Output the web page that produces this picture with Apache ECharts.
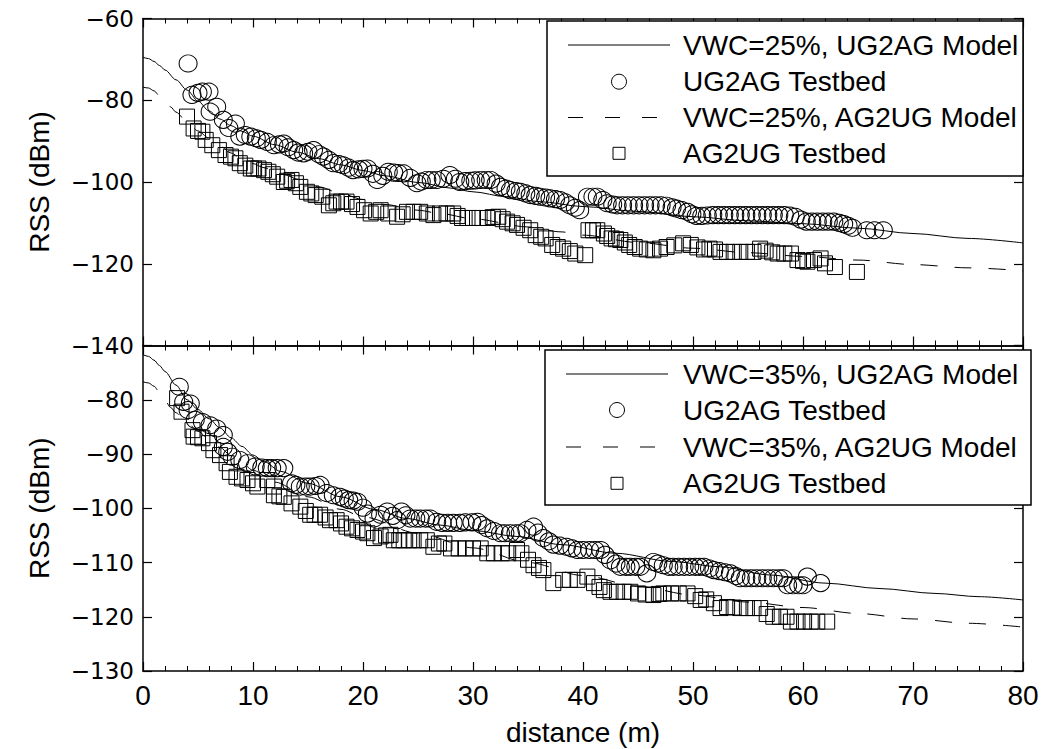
<!DOCTYPE html>
<html>
<head>
<meta charset="utf-8">
<script src="https://cdn.jsdelivr.net/npm/echarts@6/dist/echarts.min.js"></script>
<style>
html,body{margin:0;padding:0;background:#fff;}
#chart{width:1062px;height:749px;}
</style>
</head>
<body>
<div id="chart"></div>
<script>
// ---------- axis ranges / ticks ----------
const xRange = [0, 80];
const xInterval = 10;
const topYRange = [-140, -60];
const topYInterval = 20;
const bottomYRange = [-130, -70];
const bottomYInterval = 10;
const xAxisTitle = 'distance (m)';
const yAxisTitle = 'RSS (dBm)';

// ---------- legend labels ----------
const topLegendLabels = ['VWC=25%, UG2AG Model', 'UG2AG Testbed', 'VWC=25%, AG2UG Model', 'AG2UG Testbed'];
const bottomLegendLabels = ['VWC=35%, UG2AG Model', 'UG2AG Testbed', 'VWC=35%, AG2UG Model', 'AG2UG Testbed'];

// ---------- top panel (VWC = 25%) ----------
const top_ug2agModel = [[0,-69.5],[0.5,-69.8],[1,-70.5],[1.5,-71.5],[2,-72.6],[3,-75],[4,-77.5],[5,-80.2],[6,-82.6],[7,-84.6],[8,-86.2],[9,-87.6],[10,-88.8],[12,-90.9],[14,-92.7],[16,-94.3],[18,-95.8],[20,-97.2],[22,-98.5],[25,-100.1],[28,-101.5],[30,-102.4],[33,-103.6],[36,-104.8],[40,-106],[45,-107.2],[50,-108.5],[55,-109.5],[60,-110.2],[65,-111.3],[70,-112.6],[75,-113.8],[80,-114.9]];
const top_ug2agTest = [[4.1,-71],[4.45,-78.7],[5.0,-78.2],[5.4,-77.9],[6.0,-77.9],[6.1,-82.8],[6.7,-81.6],[7.3,-84.8],[7.8,-86.8],[8.4,-85.7],[8.8,-88.9],[9.3,-88.5],[9.8,-88.9],[10.3,-89.3],[10.7,-89.7],[11.3,-90.2],[11.9,-91],[12.4,-90.8],[12.8,-90.6],[13.2,-91.5],[13.7,-92.2],[14.1,-92.8],[14.6,-93],[15.0,-92.6],[15.5,-92.2],[16.0,-93.2],[16.4,-93.8],[16.9,-94.6],[17.3,-95.4],[17.8,-95.6],[18.2,-95.9],[18.7,-96.5],[19.1,-97.1],[19.6,-96.9],[20.0,-96.8],[20.4,-96.7],[20.9,-98],[21.3,-99.5],[21.8,-98.5],[22.3,-97.5],[22.8,-97.7],[23.2,-97.8],[23.7,-97.9],[24.3,-99],[24.9,-100.3],[25.3,-99.9],[25.8,-99.5],[26.2,-99.5],[26.7,-99.5],[27.3,-99.2],[27.9,-98.3],[28.4,-99.2],[28.8,-100],[29.3,-99.8],[29.8,-99.7],[30.2,-99.6],[30.7,-99.5],[31.2,-99.5],[31.6,-99.5],[32.1,-100.4],[32.5,-101.2],[33.0,-101.6],[33.4,-102],[33.9,-102.2],[34.3,-102.4],[34.8,-102.8],[35.2,-103.2],[35.7,-103.4],[36.1,-103.6],[36.6,-103.8],[37.0,-104],[37.5,-104.2],[37.9,-104.4],[38.4,-105],[38.8,-105.7],[39.3,-106.3],[39.7,-106.9],[40.4,-103.6],[40.9,-103.6],[41.3,-103.6],[41.8,-104.4],[42.2,-105.2],[42.7,-105.5],[43.1,-105.7],[43.6,-105.7],[44.1,-105.7],[44.6,-105.7],[45.1,-105.7],[45.6,-105.7],[46.1,-105.7],[46.6,-105.7],[47.1,-105.7],[47.6,-105.8],[48.1,-106.2],[48.5,-106.5],[49.0,-106.9],[49.5,-107.3],[49.9,-107.9],[50.3,-108.3],[50.8,-108.3],[51.3,-108.2],[51.8,-108.1],[52.3,-108.1],[52.8,-108.1],[53.3,-108.1],[53.8,-108.1],[54.3,-108.1],[54.8,-108.1],[55.3,-108.1],[55.8,-108.1],[56.3,-108.1],[56.8,-108.1],[57.3,-108.1],[57.8,-108.1],[58.3,-108.1],[58.8,-108.2],[59.3,-108.5],[59.8,-109.2],[60.3,-109.7],[60.8,-109.7],[61.3,-109.7],[61.8,-109.7],[62.3,-109.7],[62.8,-109.7],[63.3,-110],[63.7,-110.3],[64.1,-110.7],[64.5,-111.2],[65.8,-111.8],[66.5,-111.8],[67.3,-111.8]];
const top_ag2ugModel = [[0,-76.8],[0.5,-77.0],[1,-77.7],[1.5,-78.9],[2,-80.2],[2.5,-81.6],[3,-82.9],[4,-85.3],[5,-87.5],[6,-89.3],[7,-91.2],[8,-92.9],[9,-94.4],[10,-95.5],[11,-96.5],[12,-97.4],[13,-98.3],[14,-99.3],[15,-100.3],[16,-101.2],[18,-102.8],[20,-104.3],[22,-105.5],[25,-106.9],[27,-107.7],[30,-109],[35,-111],[38,-112.2],[40,-113],[45,-114.8],[50,-116.2],[55,-117.3],[60,-118.2],[65,-119.1],[70,-120.2],[75,-121],[80,-121.7]];
const top_ag2ugTest = [[4.0,-84],[4.6,-86.9],[5.0,-87.5],[5.4,-87.7],[5.7,-89.7],[6.3,-91],[6.9,-92.2],[7.5,-93.4],[8.0,-93.8],[8.4,-94.2],[8.8,-95.4],[9.3,-96],[9.8,-96.7],[10.1,-96.7],[10.5,-96.7],[11.0,-97.1],[11.4,-97.5],[11.8,-98.1],[12.2,-98.7],[12.8,-100],[13.1,-99.7],[13.5,-99.5],[13.9,-100.3],[14.3,-101.2],[14.9,-102.4],[15.3,-102.8],[15.7,-103.2],[16.3,-103.6],[16.9,-105.7],[17.3,-105.2],[17.6,-104.8],[18.0,-104.8],[18.5,-104.8],[19.0,-105.4],[19.5,-106.1],[20.1,-106.9],[20.7,-107.7],[21.2,-107.3],[21.6,-106.9],[22.3,-107.7],[23.1,-108.5],[23.6,-107.9],[24.0,-107.3],[24.6,-107.3],[25.2,-107.3],[25.8,-107.7],[26.4,-108.1],[27.0,-107.7],[27.6,-107.7],[28.2,-107.7],[28.6,-108.3],[29.0,-108.8],[29.5,-108.8],[30.0,-108.8],[30.6,-108.8],[31.3,-108.8],[31.8,-108.6],[32.3,-108.5],[32.7,-109.1],[33.1,-109.7],[33.6,-110.1],[34.0,-110.5],[34.6,-111.2],[35.2,-111.8],[35.7,-113],[36.2,-113.4],[36.6,-113.8],[37.2,-115.4],[37.7,-115.9],[38.2,-116.3],[38.8,-116.9],[39.3,-117.5],[40.2,-117.9],[40.5,-111.8],[40.9,-111.8],[41.3,-111.8],[41.9,-112.6],[42.2,-113.2],[42.6,-113.8],[43.0,-114],[43.4,-114.2],[43.8,-114.8],[44.2,-115.4],[44.7,-115.9],[45.2,-116.3],[45.8,-116.5],[46.4,-116.7],[47.0,-116.3],[47.6,-115.9],[48.3,-115.5],[49.1,-115],[49.8,-115.4],[50.4,-116],[51.0,-116.5],[51.5,-116.3],[52.0,-116.5],[52.5,-117.1],[53.1,-117.1],[53.7,-117.1],[54.3,-117.1],[54.9,-117.1],[55.5,-117.1],[56.1,-116.3],[56.6,-116.8],[57.2,-117.2],[57.7,-117.5],[58.3,-117.5],[58.9,-117.5],[59.5,-119.1],[60.0,-119.3],[60.4,-119.5],[61.0,-119.1],[61.6,-118.7],[62.0,-119.9],[62.9,-120.8],[64.9,-122]];

// ---------- bottom panel (VWC = 35%) ----------
const bot_ug2agModel = [[0,-71.7],[0.5,-72],[1,-72.7],[1.5,-73.7],[2,-74.8],[3,-77.3],[4,-80],[5,-81.8],[6,-83.5],[7,-85.2],[8,-87],[9,-88.6],[10,-90.2],[11,-91.4],[12.5,-93.2],[15,-95.4],[18,-97.9],[21,-100.2],[24,-101.9],[27,-103.1],[30,-104.1],[34,-105.2],[38,-106.7],[43,-108.3],[48,-109.8],[52.5,-110.8],[57,-112.3],[62,-113.8],[67,-114.8],[72,-115.7],[76,-116.3],[80,-116.9]];
const bot_ug2agTest = [[3.3,-77.6],[3.7,-80.4],[4.1,-81.9],[4.3,-80.7],[4.75,-83.7],[5.4,-84.1],[6.1,-84.7],[6.7,-85.3],[7.3,-86.5],[7.3,-88.7],[7.7,-89.6],[8.1,-90.5],[8.8,-91.1],[9.5,-91.7],[10.2,-92.3],[10.8,-92.5],[11.3,-92.6],[11.7,-92.6],[12.2,-92.6],[12.8,-92.6],[13.5,-95.4],[13.9,-95.7],[14.3,-96],[14.8,-96],[15.2,-96],[15.7,-95.9],[16.1,-95.7],[16.7,-97.2],[17.3,-97.6],[17.9,-97.9],[18.3,-98.2],[18.7,-98.5],[19.1,-98.6],[19.5,-98.8],[20.0,-99.9],[20.4,-101],[21.0,-101.9],[21.6,-101.2],[22.2,-100.6],[22.7,-101.4],[23.1,-102.2],[23.5,-100.6],[23.9,-101.3],[24.3,-101.9],[24.8,-101.9],[25.2,-101.9],[25.7,-101.9],[26.1,-101.9],[26.7,-102.5],[27.2,-102.7],[27.7,-102.7],[28.2,-102.7],[28.8,-102.7],[29.3,-102.6],[29.9,-102.6],[30.4,-102.5],[30.8,-103.1],[31.3,-103.7],[31.9,-104.2],[32.5,-104.6],[32.9,-104.6],[33.4,-104.6],[33.9,-104.6],[34.3,-104.6],[34.9,-104],[35.5,-103.4],[35.9,-104.5],[36.4,-105.5],[36.9,-106.1],[37.3,-106.7],[37.9,-106.9],[38.5,-107.1],[39.0,-107.4],[39.5,-107.7],[40.0,-107.7],[40.6,-107.7],[41.1,-107.7],[41.6,-107.7],[42.0,-108.6],[42.5,-109.6],[43.0,-110.2],[43.4,-110.8],[43.9,-110.8],[44.3,-110.8],[44.8,-110.8],[45.2,-110.8],[45.8,-112],[46.4,-109.9],[46.8,-110.2],[47.3,-110.5],[47.8,-110.8],[48.2,-110.8],[48.7,-110.8],[49.2,-110.8],[49.7,-110.8],[50.2,-110.8],[50.6,-110.8],[51.0,-110.8],[51.5,-111.1],[51.9,-111.4],[52.4,-111.6],[52.9,-111.8],[53.4,-112],[53.9,-112.5],[54.3,-112.9],[54.8,-112.9],[55.3,-112.9],[55.8,-112.9],[56.3,-112.9],[56.8,-112.9],[57.3,-112.9],[57.8,-112.9],[58.2,-112.9],[58.6,-114.2],[59.1,-114.2],[59.6,-114.2],[60.0,-114.2],[60.4,-112.6],[61.6,-113.8]];
const bot_ag2ugModel = [[0,-76.7],[0.5,-76.9],[1,-77.5],[1.5,-78.6],[2,-80.1],[2.5,-81.4],[3,-82.4],[4,-84.2],[5,-85.8],[6,-87.3],[7,-88.8],[8,-90.3],[9,-91.7],[10,-93],[12,-95.2],[15,-97.9],[18,-100.2],[20,-101.6],[25,-104.6],[30,-107.3],[35,-110],[40,-112.4],[45,-114.4],[50,-116],[55,-117.3],[60,-118.3],[65,-119.4],[70,-120.4],[75,-121.2],[80,-121.9]];
const bot_ag2ugTest = [[3.1,-79.7],[3.5,-82.2],[4.5,-85.6],[4.6,-86.8],[5.0,-86.9],[5.4,-87.1],[6.0,-88],[6.4,-89.3],[7.0,-90.2],[7.6,-91.7],[7.9,-93.3],[8.5,-94.2],[9.0,-94.5],[9.5,-94.8],[10.0,-95.4],[10.4,-96],[11.3,-94.8],[11.9,-96],[11.9,-97.6],[12.4,-97.8],[12.8,-97.9],[13.5,-99.1],[14.3,-99.7],[14.8,-100.5],[15.2,-101.2],[15.6,-101.2],[16.1,-101.2],[16.6,-101.7],[17.0,-102.2],[17.6,-102.2],[18.0,-102.8],[18.5,-103.4],[19.0,-103.7],[19.5,-104],[20.0,-104.3],[20.4,-104.6],[21.0,-105.5],[21.6,-105.2],[22.1,-105],[22.5,-104.9],[22.8,-105.9],[23.3,-105.9],[23.7,-105.9],[24.2,-105.9],[24.6,-105.9],[25.2,-105.9],[25.8,-105.9],[26.4,-107.1],[26.9,-106.5],[27.4,-106.5],[28.0,-107.4],[28.7,-107.4],[29.3,-107.4],[30.0,-107.4],[30.7,-107.4],[31.3,-108.3],[31.9,-108.3],[32.6,-108.3],[33.2,-108.3],[34.0,-107.7],[34.4,-108.3],[35.0,-109.5],[35.5,-110.5],[36.0,-111],[36.4,-111.4],[37.3,-113.8],[38.2,-113.2],[38.8,-113.2],[39.5,-113.2],[40.4,-112.6],[41.0,-113.8],[41.5,-114.5],[41.9,-115.1],[42.5,-115.4],[43.1,-115.4],[43.7,-115.4],[44.3,-115.4],[45.0,-115.7],[45.7,-115.9],[46.4,-116],[46.9,-115.8],[47.3,-115.7],[48.0,-115.7],[48.7,-115.7],[49.5,-115.7],[50.2,-116.2],[50.7,-116.9],[51.2,-116.8],[51.9,-117.5],[52.5,-118.4],[53.1,-118.2],[53.7,-118.3],[54.3,-118.4],[54.9,-118.4],[55.5,-118.4],[56.1,-118.4],[56.7,-119.5],[57.3,-120],[57.9,-120],[58.5,-120],[58.9,-120.9],[59.5,-120.9],[60.1,-120.9],[60.7,-120.9],[61.3,-120.9],[62.2,-120.9]];

// ---------- build ----------
const LAB = 'Liberation Sans, Arial, Helvetica, sans-serif';
const TICKF = 'DejaVu Sans, sans-serif';
const BLACK = '#000';
const minusFmt = v => String(v).replace('-', '\u2212');

function xAx(gridIndex, position, showLabels, name) {
  return {
    type: 'value', gridIndex, position, min: xRange[0], max: xRange[1], interval: xInterval,
    axisLine: { show: true, onZero: false, lineStyle: { color: BLACK, width: 1.5 } },
    axisTick: { show: true, inside: true, length: 9, lineStyle: { color: BLACK, width: 1.2 } },
    minorTick: { show: true, splitNumber: 5, length: 5, lineStyle: { color: BLACK, width: 1 } },
    axisLabel: { show: showLabels, color: BLACK, fontFamily: LAB, fontSize: 28, margin: 10 },
    splitLine: { show: false },
    name: name || '', nameLocation: 'middle', nameGap: 47,
    nameTextStyle: { color: BLACK, fontFamily: LAB, fontSize: 28 }
  };
}
function yAx(gridIndex, position, range, interval, showLabels, name, hideMax) {
  return {
    type: 'value', gridIndex, position, min: range[0], max: range[1], interval,
    axisLine: { show: true, onZero: false, lineStyle: { color: BLACK, width: 1.5 } },
    axisTick: { show: true, inside: true, length: 9, lineStyle: { color: BLACK, width: 1.2 } },
    axisLabel: { show: showLabels, color: BLACK, fontFamily: TICKF, fontSize: 23, margin: 9,
      formatter: minusFmt, showMaxLabel: hideMax ? false : true, showMinLabel: true },
    splitLine: { show: false },
    name: name || '', nameLocation: 'middle', nameGap: 90,
    nameTextStyle: { color: BLACK, fontFamily: LAB, fontSize: 28 }
  };
}
function modelSeries(name, data, xi, yi, dashed) {
  return {
    type: 'line', name, data, xAxisIndex: xi, yAxisIndex: yi,
    showSymbol: false, symbol: 'none', smooth: 0.3, smoothMonotone: 'x',
    lineStyle: { color: BLACK, width: 1, type: dashed ? [17, 17] : 'solid' },
    z: 3, silent: true
  };
}
function testSeries(name, data, xi, yi, symbol, size) {
  return {
    type: 'scatter', name, data, xAxisIndex: xi, yAxisIndex: yi,
    symbol, symbolSize: size,
    itemStyle: { color: 'rgba(0,0,0,0)', borderColor: BLACK, borderWidth: 1, opacity: 1 },
    z: 4, silent: true
  };
}

function legendGraphic(box, rows, labels, textX, symX1, symX2) {
  const els = [];
  els.push({ type: 'rect', z: 100, shape: { x: box[0], y: box[1], width: box[2], height: box[3] },
    style: { fill: '#fff', stroke: BLACK, lineWidth: 1.5 } });
  const cx = (symX1 + symX2) / 2;
  els.push({ type: 'line', z: 101, shape: { x1: symX1, y1: rows[0], x2: symX2, y2: rows[0] },
    style: { stroke: BLACK, lineWidth: 1 } });
  els.push({ type: 'circle', z: 101, shape: { cx, cy: rows[1], r: 7.5 },
    style: { fill: 'none', stroke: BLACK, lineWidth: 1 } });
  els.push({ type: 'line', z: 101, shape: { x1: symX1, y1: rows[2], x2: symX2, y2: rows[2] },
    style: { stroke: BLACK, lineWidth: 1, lineDash: [15, 22] } });
  els.push({ type: 'rect', z: 101, shape: { x: cx - 6, y: rows[3] - 6, width: 12, height: 12 },
    style: { fill: 'none', stroke: BLACK, lineWidth: 1 } });
  labels.forEach((t, i) => {
    els.push({ type: 'text', z: 101, x: textX, y: rows[i],
      style: { text: t, fill: BLACK, fontFamily: LAB, fontSize: 28, verticalAlign: 'middle', align: 'left' } });
  });
  return els;
}

const option = {
  animation: false,
  backgroundColor: '#fff',
  grid: [
    { left: 143, top: 18.5, width: 880, height: 327 },
    { left: 143, top: 345.5, width: 880, height: 325.5 }
  ],
  xAxis: [
    xAx(0, 'bottom', false),
    xAx(0, 'top', false),
    xAx(1, 'bottom', true, xAxisTitle),
    xAx(1, 'top', false)
  ],
  yAxis: [
    yAx(0, 'left', topYRange, topYInterval, true, yAxisTitle, false),
    yAx(0, 'right', topYRange, topYInterval, false),
    yAx(1, 'left', bottomYRange, bottomYInterval, true, yAxisTitle, true),
    yAx(1, 'right', bottomYRange, bottomYInterval, false)
  ],
  series: [
    modelSeries(topLegendLabels[0], top_ug2agModel, 0, 0, false),
    testSeries(topLegendLabels[1], top_ug2agTest, 0, 0, 'circle', [18, 17]),
    modelSeries(topLegendLabels[2], top_ag2ugModel, 0, 0, true),
    testSeries(topLegendLabels[3], top_ag2ugTest, 0, 0, 'rect', [15, 15]),
    modelSeries(bottomLegendLabels[0], bot_ug2agModel, 2, 2, false),
    testSeries(bottomLegendLabels[1], bot_ug2agTest, 2, 2, 'circle', [18, 17]),
    modelSeries(bottomLegendLabels[2], bot_ag2ugModel, 2, 2, true),
    testSeries(bottomLegendLabels[3], bot_ag2ugTest, 2, 2, 'rect', [15, 15])
  ],
  graphic: [].concat(
    legendGraphic([547, 21, 476, 155], [45, 81.7, 117.5, 153.3], topLegendLabels, 683, 568, 670),
    legendGraphic([545, 350, 486, 155], [374, 410, 447, 483.3], bottomLegendLabels, 683, 566, 668)
  )
};

const chart = echarts.init(document.getElementById('chart'), null, { renderer: 'svg' });
chart.setOption(option);
</script>
</body>
</html>
